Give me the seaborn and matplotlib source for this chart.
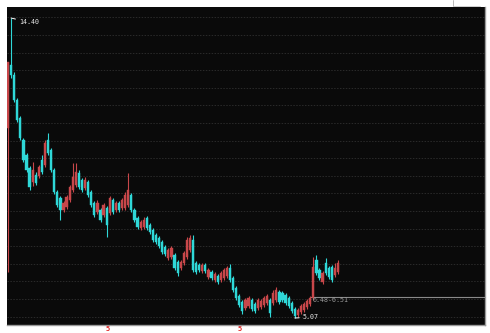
import matplotlib
matplotlib.use("Agg")
import matplotlib.pyplot as plt
import seaborn as sns
import numpy as np
import pandas as pd

# ---- data ----
opens = [10.98, 12.94, 12.63, 11.85, 11.29, 10.61, 10.14, 9.74, 9.30, 9.52,
         9.49, 9.98, 9.83, 10.61, 10.30, 9.67, 8.99, 8.80, 8.43, 8.52,
         8.74, 9.05, 9.21, 9.58, 9.36, 9.11, 9.30, 8.99, 8.65, 8.37,
         8.43, 8.27, 8.49, 8.34, 8.74, 8.43, 8.65, 8.49, 8.49, 8.58,
         8.90, 8.43, 8.18, 7.87, 7.90, 8.18, 7.96, 7.81, 7.65, 7.56,
         7.43, 7.28, 6.94, 6.97, 7.03, 6.81, 6.63, 6.78, 6.97, 7.19,
         7.50, 6.78, 6.72, 6.53, 6.72, 6.35, 6.50, 6.25, 6.38, 6.25,
         6.31, 6.38, 6.63, 6.31, 6.00, 5.75, 5.57, 5.38, 5.44, 5.63,
         5.51, 5.38, 5.41, 5.47, 5.54, 5.63, 5.54, 5.63, 5.88, 5.85,
         5.79, 5.69, 5.54, 5.35, 5.16, 5.26, 5.32, 5.41, 5.51, 5.69,
         6.87, 6.56, 6.19, 6.78, 6.63, 6.66, 6.41, 6.50]
closes = [13.03, 12.63, 11.85, 11.23, 10.67, 9.98, 9.67, 9.14, 9.67, 9.27,
          9.77, 9.61, 10.51, 10.20, 9.67, 8.99, 8.58, 8.43, 8.65, 8.83,
          9.14, 9.46, 9.61, 9.14, 9.05, 9.36, 8.90, 8.58, 8.27, 8.65,
          8.12, 8.58, 7.96, 8.80, 8.37, 8.65, 8.43, 8.74, 8.90, 9.05,
          8.43, 8.12, 7.90, 8.06, 8.12, 7.87, 7.75, 7.50, 7.43, 7.31,
          7.12, 7.06, 7.19, 7.25, 6.63, 6.47, 6.81, 7.09, 7.50, 7.56,
          6.56, 6.50, 6.56, 6.72, 6.53, 6.56, 6.31, 6.44, 6.19, 6.47,
          6.56, 6.63, 6.25, 5.94, 5.69, 5.47, 5.29, 5.63, 5.69, 5.35,
          5.29, 5.63, 5.60, 5.69, 5.75, 5.23, 5.85, 5.94, 5.57, 5.63,
          5.54, 5.44, 5.29, 5.13, 5.32, 5.44, 5.51, 5.60, 5.69, 6.66,
          6.47, 6.31, 6.47, 6.47, 6.35, 6.25, 6.63, 6.78]
highs = [13.03, 14.40, 12.72, 11.91, 11.35, 10.67, 10.20, 9.80, 9.92, 9.61,
         9.83, 10.14, 10.61, 10.82, 10.36, 9.74, 9.05, 8.87, 8.71, 8.90,
         9.21, 9.89, 9.89, 9.67, 9.42, 9.46, 9.36, 9.05, 8.71, 8.74,
         8.49, 8.65, 8.55, 8.87, 8.80, 8.71, 8.71, 8.80, 8.99, 9.58,
         8.96, 8.49, 8.24, 8.12, 8.21, 8.24, 8.02, 7.87, 7.71, 7.62,
         7.50, 7.34, 7.25, 7.31, 7.09, 6.87, 6.87, 7.15, 7.59, 7.65,
         7.65, 6.84, 6.78, 6.78, 6.78, 6.63, 6.56, 6.50, 6.44, 6.53,
         6.63, 6.69, 6.75, 6.38, 6.07, 5.82, 5.63, 5.69, 5.75, 5.69,
         5.57, 5.69, 5.66, 5.75, 5.82, 5.69, 5.94, 6.03, 5.94, 5.91,
         5.85, 5.75, 5.60, 5.41, 5.38, 5.51, 5.57, 5.66, 5.75, 6.97,
         7.03, 6.63, 6.53, 6.94, 6.69, 6.72, 6.78, 6.87]
lows = [6.50, 12.53, 11.79, 11.17, 10.61, 9.92, 9.61, 9.05, 9.18, 9.21,
        9.42, 9.55, 9.77, 10.14, 9.61, 8.93, 8.52, 8.12, 8.37, 8.46,
        8.68, 8.99, 9.14, 9.08, 8.99, 9.05, 8.83, 8.52, 8.21, 8.31,
        8.06, 8.21, 7.59, 8.27, 8.31, 8.37, 8.37, 8.43, 8.43, 8.52,
        8.37, 8.06, 7.84, 7.81, 7.84, 7.81, 7.68, 7.43, 7.37, 7.25,
        7.06, 7.00, 6.87, 6.91, 6.56, 6.38, 6.56, 6.72, 6.91, 7.12,
        6.50, 6.44, 6.50, 6.47, 6.47, 6.28, 6.25, 6.19, 6.13, 6.19,
        6.25, 6.31, 6.19, 5.88, 5.63, 5.41, 5.19, 5.32, 5.38, 5.29,
        5.23, 5.32, 5.35, 5.41, 5.47, 5.10, 5.47, 5.57, 5.51, 5.57,
        5.47, 5.38, 5.23, 5.07, 5.10, 5.19, 5.26, 5.35, 5.44, 5.63,
        6.41, 6.25, 6.13, 6.41, 6.28, 6.19, 6.35, 6.44]

month_tick_pos = [32.4, 75.2]
month_tick_labels = ["5", "5"]
high_label = "14.40"
low_label = "5.07"
range_label = "6.48-6.51"
range_line_price = 5.72

df = pd.DataFrame({"open": opens, "close": closes, "high": highs, "low": lows})
df["idx"] = np.arange(len(df))
df["up"] = df["close"] >= df["open"]

# ---- style ----
sns.set_style("dark")
plt.rcParams["font.family"] = ["DejaVu Sans Mono", "DejaVu Sans"]

RED = "#c8474a"
CYAN = "#2fd8d8"
BG = "#0a0a0a"

fig = plt.figure(figsize=(4.9, 3.33), dpi=100, facecolor="white")
ax = fig.add_axes([7 / 490, 1 - 325 / 333, 478 / 490, 318 / 333])
ax.set_facecolor(BG)

# grid lines (dotted, dark gray)
for k in range(18):
    yf = (325 - (17.4 + 17.6 * k)) / 318
    ax.plot([0, 1], [yf, yf], transform=ax.transAxes, color="#2a2a2a",
            lw=0.7, ls=(0, (1.5, 1.5)), zorder=0)

colors = np.where(df["up"], RED, CYAN)
# wicks
ax.vlines(df["idx"], df["low"], df["high"], colors=colors, lw=0.8, zorder=2)
# bodies
body_bottom = np.minimum(df["open"], df["close"])
body_h = np.maximum(np.abs(df["close"] - df["open"]), 0.02)
ax.bar(df["idx"], body_h, bottom=body_bottom, width=0.72, color=colors,
       edgecolor=colors, linewidth=0.3, zorder=3)

xmin = -0.324
xmax = xmin + 478 / 3.084
ax.set_xlim(xmin, xmax)
ax.set_ylim(4.852, 14.743)

# high / low annotations
i_hi = int(np.argmax(df["high"]))
i_lo = int(np.argmin(df["low"]))
ax.annotate(high_label, xy=(df["idx"][i_hi], df["high"][i_hi]),
            xytext=(5.5, -3), textcoords="offset points", ha="left", va="center",
            color="#e8e8e8", fontsize=4.8,
            arrowprops=dict(arrowstyle="-", color="white", lw=0.7,
                            shrinkA=0, shrinkB=0))
ax.annotate(low_label, xy=(df["idx"][i_lo], df["low"][i_lo]),
            xytext=(5.5, 0.5), textcoords="offset points", ha="left", va="center",
            color="#e8e8e8", fontsize=4.8,
            arrowprops=dict(arrowstyle="-", color="white", lw=0.7,
                            shrinkA=0, shrinkB=0))

# range line and label
x_line_start = 97.9
ax.plot([x_line_start, xmax], [range_line_price, range_line_price],
        color="#8a8a8a", lw=0.8, zorder=1)
ax.text(98.9, 5.63, range_label, color="#9a9a9a", fontsize=4.8,
        ha="left", va="center", zorder=4)

# ticks
ax.set_yticks([])
ax.set_xticks(month_tick_pos)
ax.set_xticklabels(month_tick_labels, color="#e02020", fontsize=5,
                   fontweight="bold")
ax.tick_params(axis="x", length=0, pad=1)
ax.grid(False)
for side in ["left", "top"]:
    ax.spines[side].set_visible(False)
for side in ["bottom", "right"]:
    ax.spines[side].set_visible(True)
    ax.spines[side].set_color("#9a9a9a")
    ax.spines[side].set_linewidth(1.0)

# little bracket at top right
fig.add_artist(plt.Line2D([453 / 490, 453 / 490], [1 - 0 / 333, 1 - 6 / 333],
                          color="#b0b0b0", lw=0.6))
fig.add_artist(plt.Line2D([453 / 490, 480 / 490], [1 - 6 / 333, 1 - 6 / 333],
                          color="#c8c8c8", lw=0.6))

fig.savefig("out.png", dpi=100, facecolor="white")
